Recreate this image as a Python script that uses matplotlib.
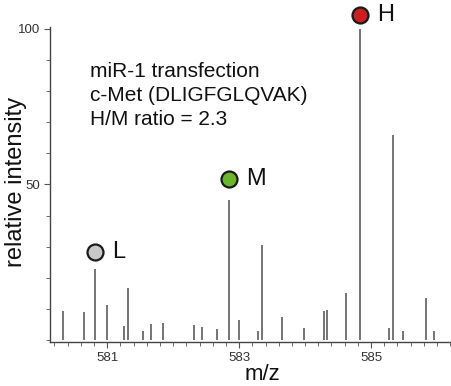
import numpy as np
import matplotlib.pyplot as plt
from matplotlib.ticker import MultipleLocator

plt.rcParams['font.family'] = ['Liberation Sans', 'DejaVu Sans']

# peak positions (m/z) and relative intensities
mz = [580.333, 580.656, 580.818, 581.0, 581.262, 581.323, 581.541, 581.662, 581.853,
      582.318, 582.444, 582.667, 582.848, 582.995, 583.292, 583.348, 583.652, 583.985,
      584.283, 584.333, 584.617, 584.833, 585.277, 585.329, 585.485, 585.833, 585.955]
intensity = [9.4, 9.1, 22.7, 11.2, 4.5, 16.6, 2.9, 5.3, 5.5,
             4.7, 4.1, 3.7, 44.9, 6.4, 3.0, 30.4, 7.3, 3.9,
             9.3, 9.8, 15.0, 100.0, 3.9, 65.7, 3.0, 13.4, 3.0]

# labelled isotope peaks (marker height in intensity units)
iso_labels = ['L', 'M', 'H']
iso_mz = [580.818, 582.848, 584.833]
iso_marker_y = [28.2, 51.6, 104.3]
iso_colors = ['#c8c8c8', '#6cb52e', '#cc1f1f']

fig = plt.figure(figsize=(4.52, 3.86), dpi=100)
ax = fig.add_axes([0.111, 0.114, 0.889, 0.816])

ax.vlines(mz, 0, intensity, color='#6a6a6a', linewidth=1.3)

for lab, x, y, c in zip(iso_labels, iso_mz, iso_marker_y, iso_colors):
    ax.plot(x, y, 'o', ms=11.5, mfc=c, mec='#1a1a1a', mew=1.6, clip_on=False)
    ax.text(x + 0.26, y, lab, fontsize=17, va='center', ha='left', color='#111111')

ax.text(580.742, 89.3, 'miR-1 transfection\nc-Met (DLIGFGLQVAK)\nH/M ratio = 2.3',
        fontsize=15, va='top', ha='left', linespacing=1.35, color='#111111')

ax.set_xlim(580.136, 586.227)
ax.set_ylim(-0.6, 100.5)

ax.set_xticks([581, 583, 585])
ax.xaxis.set_minor_locator(MultipleLocator(0.2))
ax.set_yticks([50, 100])
ax.yaxis.set_minor_locator(MultipleLocator(10))

for s in ['top', 'right']:
    ax.spines[s].set_visible(False)
for s in ['left', 'bottom']:
    ax.spines[s].set_color('#444444')
    ax.spines[s].set_linewidth(1.0)

ax.tick_params(which='both', direction='out', color='#555555', labelsize=9.5, labelcolor='#333333')
ax.tick_params(which='major', length=4, pad=3)
ax.tick_params(which='minor', length=3)

fig.text(0.58, 0.031, 'm/z', fontsize=16, ha='center', va='center', color='#111111')
fig.text(0.035, 0.528, 'relative intensity', fontsize=17, rotation=90, ha='center', va='center', color='#111111')

plt.savefig('out.png', dpi=100)
